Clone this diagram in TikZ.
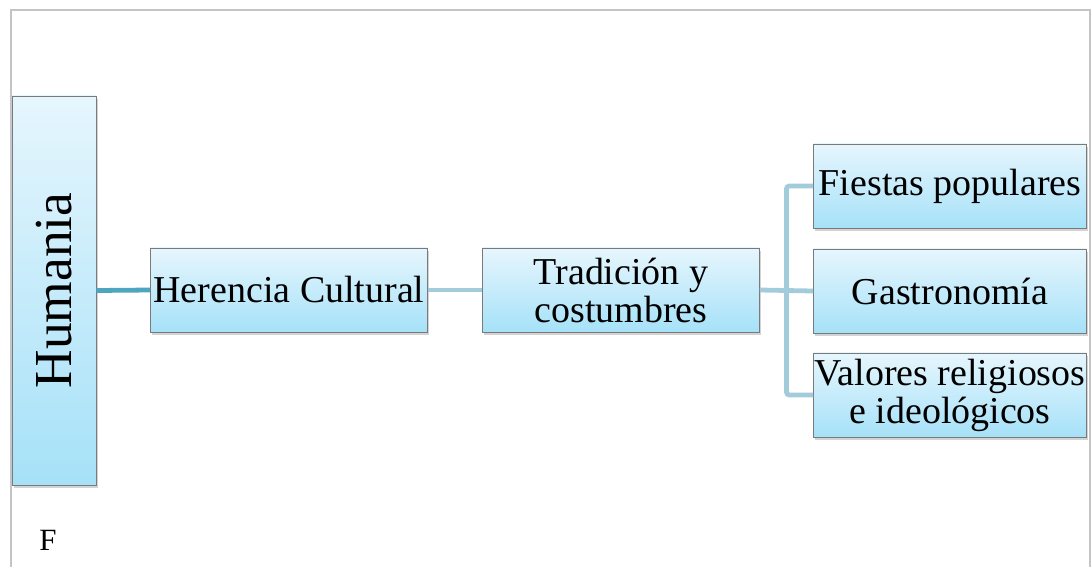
\documentclass[tikz,border=0pt]{standalone}
\usepackage{fontspec}
\setmainfont{Liberation Serif}
\usetikzlibrary{calc,shadows}
\definecolor{boxtop}{HTML}{E6F6FD}
\definecolor{boxbot}{HTML}{A6E1F8}
\definecolor{boxline}{HTML}{7A7A7A}
\definecolor{linkdark}{HTML}{4EA5BF}
\definecolor{linklight}{HTML}{A3CCDA}
\definecolor{frame}{HTML}{C4C4C4}
\begin{document}
\begin{tikzpicture}[x=0.025cm, y=-0.025cm,
    box/.style={draw=boxline, line width=0.6pt, top color=boxtop, bottom color=boxbot,
        inner sep=0pt, align=center, minimum height=2.1cm,
        font=\fontsize{27}{27}\selectfont,
        drop shadow={opacity=0.35, shadow xshift=1.2pt, shadow yshift=-2pt}},
    link/.style={line width=3.4pt, color=linklight}]
    \useasboundingbox (0,0) rectangle (1092,567);
    % page frame
    \draw[frame, line width=1pt] (11,567) -- (11,10) -- (1090,10) -- (1090,567);
    % the boxes
    \node[box, minimum width=2.1cm, minimum height=9.725cm,
        font=\fontsize{38}{38}\selectfont] (hum) at (54,290.5) {\rotatebox{90}{Humania}};
    \node[box, minimum width=6.925cm] (her) at (289,290) {Herencia Cultural};
    \node[box, minimum width=6.925cm] (trad) at (621,290) {Tradición y\\costumbres};
    \node[box, minimum width=6.825cm] (fie) at (950,186) {Fiestas populares};
    \node[box, minimum width=6.825cm] (gas) at (950,291) {Gastronomía};
    \node[box, minimum width=6.825cm] (val) at (950,395) {Valores religiosos\\e ideológicos};
    % connectors
    \draw[link, color=linkdark] (hum.east) -- (her.west);
    \draw[link] (her.east) -- (trad.west);
    \coordinate (fork) at ($(trad.east)!0.5!(gas.west)$);
    \draw[link] (trad.east) -- (gas.west);
    \draw[link, rounded corners=2pt] (fie.west) -| (fork) |- (val.west);
    \node[font=\fontsize{22}{22}\selectfont] (note) at (48,540) {F};
\end{tikzpicture}
\end{document}
